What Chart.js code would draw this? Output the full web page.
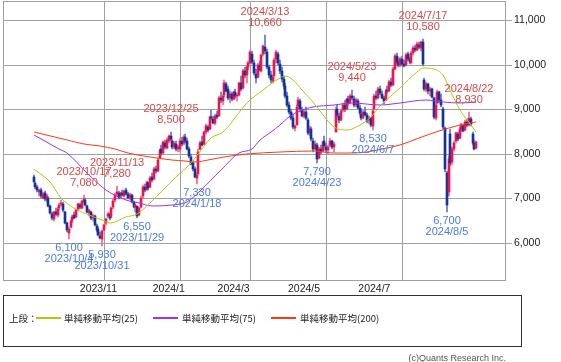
<!DOCTYPE html>
<html>
<head>
<meta charset="utf-8">
<script src="https://cdn.jsdelivr.net/npm/chart.js@4"></script>
<style>
  body { margin: 0; background: #fff; }
  #wrap { position: relative; width: 561px; height: 362px; font-family: "Liberation Sans", Arial, sans-serif; }
  #chartBox { position: absolute; left: 0; top: 0; width: 561px; height: 300px; }
  #legend { position: absolute; left: 3px; top: 295px; width: 519px; height: 52px; box-sizing: border-box; border: 1px solid #333; }
  .lg { position: absolute; top: 16px; line-height: 12px; font-size: 9.5px; color: #222; font-family: "Noto Sans CJK JP", sans-serif; white-space: nowrap; }
  .ln { position: absolute; top: 21px; width: 25px; height: 1.5px; }
  #copy { position: absolute; left: 380px; width: 126px; top: 352px; text-align: right; font-size: 9px; line-height: 12px; color: #555; }
</style>
</head>
<body>
<div id="wrap">
  <div id="chartBox"><canvas id="kabuka"></canvas></div>
  <div id="legend">
    <span class="lg" style="left:5px">上段：</span>
    <span class="ln" style="left:32px;background:#a8cc10"></span>
    <span class="lg" style="left:60px">単純移動平均(25)</span>
    <span class="ln" style="left:149px;background:#a030f0"></span>
    <span class="lg" style="left:178px">単純移動平均(75)</span>
    <span class="ln" style="left:267px;background:#ff3a10"></span>
    <span class="lg" style="left:296px">単純移動平均(200)</span>
  </div>
  <div id="copy">(c)Quants Research Inc.</div>
</div>
<script>
// daily candles, 2023/9/6 - 2024/8/28 (trading days)
const opens = [
  7480,7350,7260,7150,7180,7020,7120,6960,7020,6820,
  6650,6540,6700,6620,6780,6880,6880,6700,6440,6220,
  6350,6500,6620,6580,6760,6850,6780,6950,6960,6820,
  6680,6700,6560,6610,6380,6320,6160,6100,6300,6450,
  6600,6640,6580,6800,6960,7100,7120,7050,7130,7060,
  7180,7090,7000,7080,6920,6800,6820,6620,6800,7050,
  7250,7200,7350,7260,7480,7440,7650,7620,7900,8100,
  8030,8250,8140,8300,8400,8300,8150,8230,8100,8100,
  8300,8250,8380,8300,8100,7920,7800,7650,7450,7550,
  8100,8260,8220,8500,8600,8560,8830,8780,8700,8880,
  8850,9250,9180,9320,9560,9450,9260,9340,9240,9380,
  9300,9320,9600,9480,9850,9760,9950,10050,10250,10050,
  9800,9720,10000,9850,10250,10400,10280,9950,9780,9640,
  9750,10120,10250,10020,9860,9680,9520,9300,9100,8950,
  8800,8580,8650,9080,9180,8980,8850,8950,8760,8480,
  8560,8300,8120,8200,7900,8100,8060,8280,8150,8080,
  8200,8280,8150,8500,9000,8860,8760,8980,9100,9000,
  9220,9150,9300,9230,9100,9190,9040,8900,8800,8950,
  8880,8750,8800,8620,9000,9300,9260,9450,9350,9250,
  9200,9430,9400,9620,9540,9900,10200,10060,10000,10120,
  10020,9990,10230,10120,10050,10260,10380,10320,10450,10380,
  10520,9650,9450,9560,9420,9450,9250,8800,9150,9380,
  9200,9000,8580,7580,7150,8450,7820,8120,8300,8450,
  8360,8560,8620,8540,8720,8650,8780,8450,8250,8130
];
const highs = [
  7520,7380,7310,7220,7230,7140,7160,7100,7040,6850,
  6700,6720,6780,6800,6900,6960,6910,6720,6480,6350,
  6520,6620,6700,6760,6900,6900,6960,7080,7000,6850,
  6760,6720,6640,6620,6420,6360,6240,6300,6420,6560,
  6700,6680,6800,6980,7120,7280,7160,7150,7200,7190,
  7230,7140,7120,7100,6950,6880,6840,6800,7050,7300,
  7320,7400,7380,7500,7560,7700,7720,7900,8120,8200,
  8300,8320,8360,8420,8500,8340,8280,8290,8200,8350,
  8380,8420,8450,8360,8150,8000,7850,7700,7560,8100,
  8280,8400,8520,8680,8650,8850,8980,8840,8900,8960,
  9300,9380,9320,9650,9620,9520,9400,9380,9420,9450,
  9360,9620,9750,9900,9950,9980,10080,10330,10300,10100,
  9900,10050,10080,10250,10450,10660,10350,10000,9850,9760,
  10150,10330,10290,10100,9950,9750,9600,9380,9160,9000,
  8900,8650,9100,9270,9220,9050,9000,9050,8800,8620,
  8600,8350,8280,8240,8150,8200,8300,8400,8250,8200,
  8350,8320,8260,9050,9100,8920,9000,9150,9200,9260,
  9300,9350,9440,9300,9250,9220,9100,9000,8980,9050,
  8920,8850,8820,9000,9350,9400,9500,9520,9420,9300,
  9450,9520,9650,9700,9950,10250,10260,10150,10180,10200,
  10100,10260,10280,10180,10300,10420,10450,10500,10520,10540,
  10580,9700,9620,9600,9500,9480,9280,9150,9430,9420,
  9350,9050,8600,7620,7950,8560,8150,8300,8500,8480,
  8600,8700,8660,8760,8780,8930,8820,8480,8320,8300
];
const lows = [
  7360,7220,7150,7060,7020,6980,6950,6930,6800,6640,
  6520,6500,6600,6580,6740,6820,6700,6420,6250,6100,
  6330,6460,6540,6560,6720,6760,6760,6900,6820,6680,
  6600,6520,6500,6380,6250,6150,6080,5930,6280,6400,
  6560,6520,6560,6760,6920,7060,6980,7000,7060,7040,
  7080,6980,6970,6900,6780,6700,6550,6600,6780,7020,
  7150,7180,7200,7240,7380,7420,7580,7600,7880,7980,
  8000,8120,8100,8250,8300,8120,8100,8060,8040,8050,
  8180,8200,8250,8080,7900,7750,7620,7450,7330,7540,
  8080,8180,8200,8450,8500,8540,8760,8660,8650,8780,
  8840,9150,9100,9280,9380,9200,9150,9180,9200,9260,
  9180,9300,9400,9460,9700,9600,9880,10020,10020,9780,
  9600,9700,9850,9840,10200,10250,9900,9700,9600,9580,
  9740,10050,10000,9800,9620,9450,9250,9050,8900,8760,
  8550,8520,8640,9000,8950,8820,8800,8760,8420,8400,
  8300,8050,8080,7790,7880,8000,8040,8150,8020,8000,
  8150,8120,8050,8480,8820,8700,8740,8940,8950,8980,
  9100,9120,9200,9050,9060,9000,8880,8760,8780,8840,
  8700,8680,8600,8530,8980,9200,9240,9320,9220,9120,
  9180,9360,9380,9500,9520,9880,10020,9950,9960,9980,
  9940,9970,10080,10020,10040,10220,10280,10300,10350,10300,
  9980,9400,9380,9350,9300,9250,8780,8760,9120,9150,
  9050,8550,7600,6700,7050,7720,7760,8060,8250,8300,
  8340,8500,8480,8520,8600,8630,8620,8200,8080,8100
];
const closes = [
  7380,7250,7180,7200,7050,7110,6980,7060,6830,6680,
  6560,6690,6640,6760,6860,6900,6740,6460,6290,6320,
  6490,6580,6560,6740,6870,6800,6940,6980,6850,6700,
  6740,6550,6600,6410,6300,6180,6120,6260,6400,6530,
  6650,6560,6780,6950,7080,7150,7010,7120,7080,7170,
  7100,7000,7080,6930,6800,6850,6600,6780,7020,7260,
  7180,7380,7240,7460,7420,7660,7610,7870,8080,8020,
  8260,8150,8320,8390,8330,8150,8240,8100,8160,8300,
  8220,8380,8280,8120,7950,7780,7660,7480,7520,8050,
  8240,8210,8480,8620,8540,8820,8800,8700,8860,8820,
  9250,9200,9300,9580,9420,9250,9350,9220,9380,9300,
  9320,9580,9450,9860,9760,9940,10040,10280,10060,9820,
  9700,10000,9880,10220,10420,10300,9950,9760,9650,9720,
  10100,10280,10040,9850,9680,9520,9300,9100,8950,8800,
  8600,8620,9050,9200,9000,8860,8950,8800,8460,8560,
  8340,8100,8220,7880,8120,8050,8260,8180,8080,8160,
  8300,8160,8220,8980,8880,8750,8960,9100,9000,9220,
  9140,9300,9250,9100,9200,9040,8920,8800,8950,8880,
  8740,8800,8640,8960,9300,9250,9460,9360,9260,9180,
  9420,9400,9620,9540,9900,10200,10060,10000,10120,10020,
  9980,10220,10120,10060,10260,10380,10320,10460,10400,10500,
  10020,9450,9560,9400,9460,9280,8820,9100,9380,9200,
  9100,8600,7650,6850,7880,7800,8100,8250,8460,8340,
  8560,8640,8520,8720,8640,8800,8660,8240,8120,8260
];

// moving averages: [trading day number, value]
const ma25 = [[0,7660],[9,7370],[15,7010],[22,6780],[30,6630],[37,6520],[41,6440],[50,6580],[56,6650],
  [63,6900],[70,7190],[77,7480],[85,7790],[91,8110],[96,8350],[102,8480],[115,9140],[124,9430],
  [133,9700],[136,9740],[140,9660],[145,9440],[151,9160],[156,8880],[162,8600],[169,8530],[176,8650],
  [182,8820],[187,9080],[198,9470],[207,9830],[211,9920],[216,9910],[221,9770],[225,9430],[230,8980],
  [236,8650],[239,8490]];
const ma75 = [[0,8420],[5,8310],[14,8110],[18,8020],[29,7570],[39,7190],[50,6960],[57,6900],[64,6830],
  [75,6850],[83,6920],[90,7170],[101,7640],[111,8020],[118,8120],[122,8310],[128,8480],[133,8650],
  [138,8830],[144,8960],[151,9050],[162,9090],[172,9140],[187,9100],[198,9150],[212,9200],[221,9160],
  [230,9140],[239,9160]];
const ma200 = [[0,8490],[18,8310],[27,8220],[36,8170],[44,8110],[51,8030],[63,7930],[75,7860],[82,7830],
  [87,7820],[94,7870],[103,7940],[115,7990],[133,8040],[151,8060],[162,8030],[170,8020],[180,8040],
  [188,8100],[198,8200],[208,8360],[219,8520],[230,8650],[239,8710]];

const highMarks = [["2023/10/17",7080],["2023/11/13",7280],["2023/12/25",8500],["2024/3/13",10660],
  ["2024/5/23",9440],["2024/7/17",10580],["2024/8/22",8930]];
const lowMarks = [["2023/10/4",6100],["2023/10/31",5930],["2023/11/29",6550],["2024/1/18",7330],
  ["2024/4/23",7790],["2024/6/7",8530],["2024/8/5",6700]];

const monthLabels = ["2023/11","2024/1","2024/3","2024/5","2024/7"];
const labelLag = [3,6,9,12,15];
const yTicks = [6000,7000,8000,9000,10000,11000];

// calendar
const PAD_L = 16, PAD_R = 15;
const holidays = ["2023-09-18","2023-10-09","2023-11-03","2023-11-23","2024-01-01","2024-01-02",
  "2024-01-03","2024-01-08","2024-02-12","2024-02-23","2024-03-20","2024-04-29","2024-05-03",
  "2024-05-06","2024-07-15","2024-08-12","2024-09-16","2024-09-23"];

function tradingDays(from, n) {
  const out = [];
  const d = new Date(from + "T00:00:00Z");
  while (out.length < n) {
    const wd = d.getUTCDay();
    const iso = d.toISOString().slice(0, 10);
    if (wd !== 0 && wd !== 6 && !holidays.includes(iso)) {
      out.push(d.getUTCFullYear() + "/" + (d.getUTCMonth() + 1) + "/" + d.getUTCDate());
    }
    d.setUTCDate(d.getUTCDate() + 1);
  }
  return out;
}

const days = tradingDays("2023-08-15", PAD_L + closes.length + PAD_R);
const pad = (a) => [...Array(PAD_L).fill(null), ...a, ...Array(PAD_R).fill(null)];
const maPts = (a) => a.map(([k, v]) => ({ x: days[PAD_L + k], y: v }));

const UP = "#f0144a", DOWN = "#14329a", UP_W = "#f06a8a", DOWN_W = "#5a78c8";
const up = opens.map((o, i) => closes[i] >= o);

const gridIdx = monthLabels.map(m => days.findIndex(d => d.startsWith(m + "/")));
const labelIdx = gridIdx.map((g, i) => g - labelLag[i]);

const frame = {
  id: "frame",
  beforeDatasetsDraw(chart) {
    const { ctx, chartArea: a } = chart;
    ctx.save();
    ctx.strokeStyle = "#a0a0a0";
    ctx.lineWidth = 1;
    ctx.strokeRect(Math.round(a.left) + 0.5, Math.round(a.top) + 0.5,
      Math.round(a.right - a.left), Math.round(a.bottom - a.top));
    ctx.restore();
  }
};

const marks = {
  id: "marks",
  afterDatasetsDraw(chart) {
    const { ctx, scales } = chart;
    ctx.save();
    ctx.font = "11px 'Liberation Sans', Arial, sans-serif";
    ctx.textAlign = "center";
    ctx.textBaseline = "middle";
    ctx.fillStyle = "#d84848";
    highMarks.forEach(([d, v]) => {
      const x = scales.x.getPixelForValue(days.indexOf(d));
      const y = scales.y.getPixelForValue(v);
      ctx.fillText(v.toLocaleString("en-US"), x, y - 12);
      ctx.fillText(d, x, y - 23);
    });
    ctx.fillStyle = "#4a7ae6";
    lowMarks.forEach(([d, v]) => {
      const x = scales.x.getPixelForValue(days.indexOf(d));
      const y = scales.y.getPixelForValue(v);
      ctx.fillText(v.toLocaleString("en-US"), x, y + 9);
      ctx.fillText(d, x, y + 20);
    });
    ctx.restore();
  }
};

Chart.defaults.font.family = "'Liberation Sans', Arial, sans-serif";
Chart.defaults.font.size = 10.5;

const ctx = document.getElementById("kabuka").getContext("2d");
new Chart(ctx, {
  type: "bar",
  data: {
    labels: days,
    datasets: [
      { type: "line", data: maPts(ma25), borderColor: "#a8cc10", borderWidth: 1, pointRadius: 0,
        cubicInterpolationMode: "monotone", order: 0 },
      { type: "line", data: maPts(ma75), borderColor: "#a030f0", borderWidth: 1, pointRadius: 0,
        cubicInterpolationMode: "monotone", order: 0 },
      { type: "line", data: maPts(ma200), borderColor: "#ff3a10", borderWidth: 1, pointRadius: 0,
        cubicInterpolationMode: "monotone", order: 0 },
      { data: pad(opens.map((o, i) => [o, closes[i]])), backgroundColor: pad(up.map(u => u ? UP : DOWN)),
        barThickness: 2, minBarLength: 1, grouped: false, order: 1 },
      { data: pad(lows.map((l, i) => [l, highs[i]])), backgroundColor: pad(up.map(u => u ? UP_W : DOWN_W)),
        barThickness: 1, grouped: false, order: 2 }
    ]
  },
  options: {
    responsive: true,
    maintainAspectRatio: false,
    animation: false,
    layout: { padding: { left: 3, top: 1, right: 0, bottom: 0 } },
    plugins: { legend: { display: false }, tooltip: { enabled: false } },
    scales: {
      x: {
        type: "category",
        offset: true,
        weight: 0,
        alignToPixels: true,
        grid: { color: "#a0a0a0", offset: false, drawTicks: false },
        border: { display: false },
        ticks: { display: false },
        afterBuildTicks: (s) => { s.ticks = gridIdx.map(v => ({ value: v })); },
        afterFit: (s) => { s.height = 0; s.paddingLeft = 0; s.paddingRight = 0; }
      },
      xl: {
        type: "category",
        position: "bottom",
        offset: true,
        weight: 1,
        grid: { display: false, drawTicks: false },
        border: { display: false },
        ticks: { autoSkip: false, maxRotation: 0, padding: 3, color: "#222",
          callback: (v, i) => monthLabels[i] },
        afterBuildTicks: (s) => { s.ticks = labelIdx.map(v => ({ value: v })); },
        afterFit: (s) => { s.height = 20; s.paddingLeft = 0; s.paddingRight = 0; }
      },
      y: {
        position: "right",
        min: 5170,
        max: 11430,
        alignToPixels: true,
        grid: { color: "#a0a0a0", tickLength: 7 },
        border: { display: false },
        ticks: { padding: 2, color: "#222", callback: (v) => v.toLocaleString("en-US") },
        afterBuildTicks: (s) => { s.ticks = yTicks.map(v => ({ value: v })); },
        afterFit: (s) => { s.width = 56; s.paddingTop = 0; s.paddingBottom = 0; }
      }
    }
  },
  plugins: [frame, marks]
});
</script>
</body>
</html>
